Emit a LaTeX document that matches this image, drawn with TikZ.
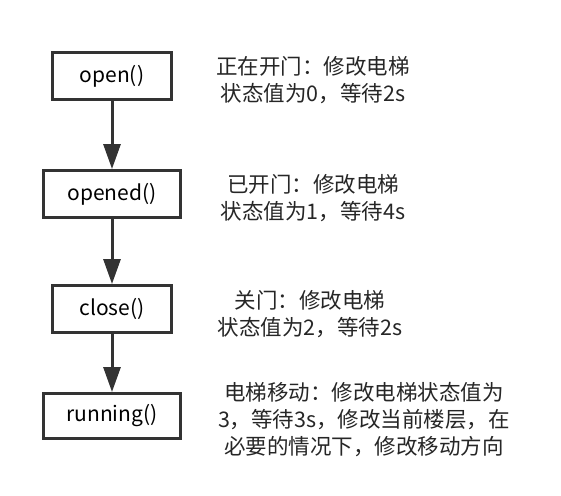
\documentclass[tikz,border=0pt]{standalone}
\usepackage{fontspec}
\setmainfont{Noto Sans CJK SC}
\usetikzlibrary{arrows.meta}

\begin{document}
\begin{tikzpicture}[x=1pt, y=-1pt,
    box/.style={rectangle, draw=black!80, line width=3pt, minimum height=47pt, inner sep=0pt, font=\fontsize{21}{26}\selectfont},
    note/.style={align=center, font=\fontsize{21.5}{27}\selectfont, text=black!85},
    arrow/.style={-{Triangle[width=17pt,length=25pt]}, line width=3pt, draw=black!80}
]
\useasboundingbox (0,0) rectangle (561,495);

\node[box, minimum width=119pt] (open) at (112,76) {open()};
\node[box, minimum width=137pt] (opened) at (112,194) {opened()};
\node[box, minimum width=119pt] (close) at (112,309) {close()};
\node[box, minimum width=137pt, minimum height=45pt] (running) at (112,416) {running()};

\node[note] (opentxt) at (313,80) {正在开门：修改电梯\\状态值为0，等待2s};
\node[note] (openedtxt) at (313,198) {已开门：修改电梯\\状态值为1，等待4s};
\node[note] (closetxt) at (310,314) {关门：修改电梯\\状态值为2，等待2s};
\node[note] (runningtxt) at (364,420) {电梯移动：修改电梯状态值为\\3，等待3s，修改当前楼层，在\\必要的情况下，修改移动方向};

\draw[arrow] (open) -- (opened);
\draw[arrow] (opened) -- (close);
\draw[arrow] (close) -- (running);
\end{tikzpicture}
\end{document}
